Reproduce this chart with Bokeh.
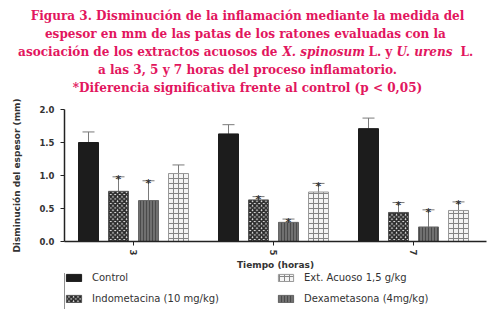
from bokeh.plotting import figure
from bokeh.layouts import column
from bokeh.models import (FixedTicker, Label, Legend, LegendItem, Whisker,
                          ColumnDataSource, TeeHead)
from bokeh.core.properties import value
from bokeh.embed import file_html
from bokeh.resources import INLINE
import math

# ---------------- data ----------------
tiempos = ["3", "5", "7"]
series = ["Control", "Indometacina (10 mg/kg)", "Dexametasona (4mg/kg)",
          "Ext. Acuoso 1,5 g/kg"]
control = [1.50, 1.63, 1.71]
control_err = [0.16, 0.14, 0.16]
indometacina = [0.76, 0.63, 0.44]
indometacina_err = [0.22, 0.05, 0.15]
dexametasona = [0.62, 0.29, 0.22]
dexametasona_err = [0.30, 0.05, 0.26]
ext_acuoso = [1.03, 0.75, 0.47]
ext_acuoso_err = [0.13, 0.13, 0.13]
signif_indometacina = [True, True, True]
signif_dexametasona = [True, True, True]
signif_ext_acuoso = [False, True, True]

title_lines = [
    "Figura 3. Disminución de la inflamación mediante la medida del",
    "espesor en mm de las patas de los  ratones evaluadas con la",
    None,
    "a las 3, 5 y 7 horas del proceso inflamatorio.",
    "*Diferencia significativa frente al control (p < 0,05)",
]
line3_parts = [("asociación de los extractos acuosos de", "bold"),
               ("X. spinosum", "bold italic"), ("L. y", "bold"),
               ("U. urens", "bold italic"), ("L.", "bold")]

# ---------------- layout constants ----------------
W, H = 493, 309
TH = 95                               # title strip height
LH = 36                               # legend strip height
FL, FR, FT, FB = 64, 486, 109, 241    # chart frame edges in page pixels
FW = FR - FL
PX_PER_GROUP = 140.0
GROUP0 = 133 - FL
TITLE_COLOR = "#E2165E"
COMMON = dict(output_backend="svg", toolbar_location=None,
              min_border_left=FL, min_border_right=W - FR)

# ---------------- title strip ----------------
t = figure(width=W, height=TH, x_range=(0, 1), y_range=(0, 1),
           output_backend="svg", toolbar_location=None, min_border=0)
t.frame_align = False
t.axis.visible = False
t.grid.visible = False
t.outline_line_color = None
baselines = [14, 32, 50, 68, 86]
FONT_T = "DejaVu Serif Condensed"
FS_T = "13.4px"
for ln, b in zip(title_lines, baselines):
    if ln is None:
        continue
    t.add_layout(Label(x=247, y=TH - b, x_units="screen", y_units="screen",
                       text=ln, text_align="center", text_baseline="alphabetic",
                       text_font=FONT_T, text_font_size=FS_T,
                       text_font_style="bold", text_color=TITLE_COLOR))
part_x = [277, 282, 368, 396, 460]
part_align = ["right", "left", "left", "left", "left"]
for (txt, sty), px, al in zip(line3_parts, part_x, part_align):
    t.add_layout(Label(x=px, y=TH - baselines[2], x_units="screen", y_units="screen",
                       text=txt, text_align=al, text_baseline="alphabetic",
                       text_font=FONT_T, text_font_size=FS_T,
                       text_font_style=sty, text_color=TITLE_COLOR))

# ---------------- chart ----------------
x_start = -GROUP0 / PX_PER_GROUP
x_end = x_start + FW / PX_PER_GROUP
CH = H - TH - LH
p = figure(width=W, height=CH, x_range=(x_start, x_end), y_range=(0, 2.0),
           min_border_top=FT - TH, min_border_bottom=(TH + CH) - FB, **COMMON)
p.outline_line_color = None
p.xgrid.visible = False
p.ygrid.visible = False

off_px = [-45, -15, 15, 45]
bw = 20 / PX_PER_GROUP
styles = [
    dict(fill_color="#1c1c1c", line_color="#1c1c1c"),
    dict(fill_color="#f4f4f4", line_color="#555555", hatch_pattern="diagonal_cross",
         hatch_color="#2a2a2a", hatch_scale=4.5, hatch_weight=2.0),
    dict(fill_color="#707070", line_color="#666666", hatch_pattern="vertical_line",
         hatch_color="#4a4a4a", hatch_scale=3, hatch_weight=1.0),
    dict(fill_color="#f4f4f4", line_color="#999999", hatch_pattern="cross",
         hatch_color="#858585", hatch_scale=5, hatch_weight=1.0),
]
vals = [control, indometacina, dexametasona, ext_acuoso]
errs = [control_err, indometacina_err, dexametasona_err, ext_acuoso_err]
sigs = [[False] * 3, signif_indometacina, signif_dexametasona, signif_ext_acuoso]

for k in range(4):
    xs = [i + off_px[k] / PX_PER_GROUP for i in range(len(tiempos))]
    up = [v + e for v, e in zip(vals[k], errs[k])]
    src = ColumnDataSource(dict(x=xs, top=vals[k], up=up))
    p.vbar(x="x", top="top", bottom=0, width=bw, source=src, line_width=1,
           **styles[k])
    wh = Whisker(base="x", lower="top", upper="up", source=src,
                 line_color="#7a7a7a", line_width=1,
                 upper_head=TeeHead(size=12, line_color="#7a7a7a", line_width=1),
                 lower_head=None)
    p.add_layout(wh)
    sx = [x for x, s in zip(xs, sigs[k]) if s]
    sy = [u for u, s in zip(up, sigs[k]) if s]
    if sx:
        p.text(x=sx, y=sy, text=["*"] * len(sx), text_align="center",
               text_baseline="middle", y_offset=3, text_color="#333333",
               text_font=value("DejaVu Sans"), text_font_size="11px",
               text_font_style="bold")

p.xaxis.ticker = FixedTicker(ticks=list(range(len(tiempos))))
p.xaxis.major_label_overrides = {i: s for i, s in enumerate(tiempos)}
p.xaxis.major_label_orientation = -math.pi / 2
p.xaxis.axis_label = "Tiempo (horas)"
p.yaxis.axis_label = "Disminución del espesor (mm)"
p.yaxis.ticker = FixedTicker(ticks=[0, 0.5, 1.0, 1.5, 2.0])
p.yaxis.major_label_overrides = {0: "0.0", 0.5: "0.5", 1: "1.0", 1.5: "1.5", 2: "2.0"}
for ax in (p.xaxis[0], p.yaxis[0]):
    ax.axis_line_color = "#222222"
    ax.axis_line_width = 1.5
    ax.major_tick_line_color = "#222222"
    ax.major_tick_out = 4
    ax.major_tick_in = 0
    ax.minor_tick_line_color = None
    ax.major_label_text_font = "DejaVu Sans"
    ax.major_label_text_font_size = "8.5px"
    ax.major_label_text_font_style = "bold"
    ax.major_label_text_color = "#333333"
    ax.axis_label_text_font = "DejaVu Sans"
    ax.axis_label_text_font_size = "9px"
    ax.axis_label_text_font_style = "bold"
    ax.axis_label_text_color = "#333333"
p.yaxis.major_label_standoff = 6
p.yaxis.axis_label_standoff = 14
p.xaxis.major_label_standoff = 4
p.xaxis.axis_label_standoff = 2

# ---------------- legend strip ----------------
lgf = figure(width=W, height=LH, x_range=(0, 1), y_range=(0, 1),
             min_border_top=0, min_border_bottom=0, **COMMON)
lgf.axis.visible = False
lgf.grid.visible = False
lgf.outline_line_color = None
leg_r = []
for k in range(4):
    # off-range sample bar, used only for the legend swatch
    leg_r.append(lgf.vbar(x=[-10], top=[1], width=0.1, line_width=1, **styles[k]))

def mk_legend(idx, loc):
    items = [LegendItem(label=series[i], renderers=[leg_r[i]]) for i in idx]
    lgf.add_layout(Legend(items=items, location=loc, orientation="vertical",
                          glyph_width=19, glyph_height=9, label_height=12,
                          label_standoff=9, spacing=9, padding=0, margin=0,
                          border_line_color=None, background_fill_alpha=0,
                          label_text_font="DejaVu Sans", label_text_font_size="10px",
                          label_text_color="#333333"))

row_bottom = 298 + 6
mk_legend([0, 1], (64 - FL, H - row_bottom))
mk_legend([3, 2], (276 - FL, H - row_bottom))

layout = column(t, p, lgf, spacing=0)
open("out.html", "w").write(file_html(layout, INLINE))
